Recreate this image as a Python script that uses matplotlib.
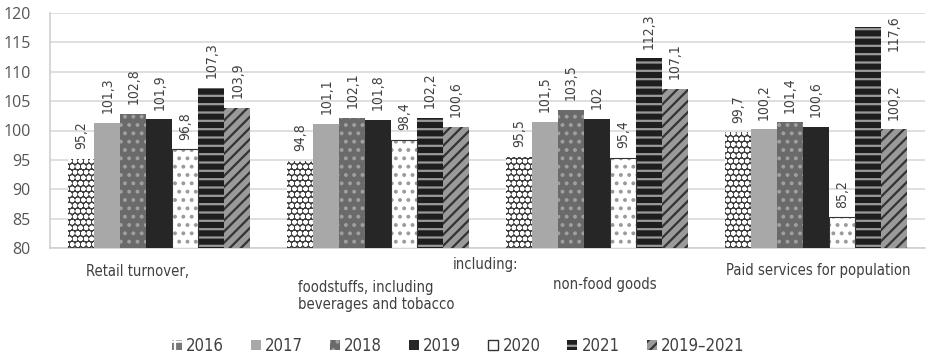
import matplotlib
matplotlib.use("Agg")
import matplotlib.pyplot as plt
import numpy as np
from matplotlib import font_manager
from matplotlib.font_manager import FontProperties
from matplotlib.patches import Patch

categories = ["Retail turnover,", "foodstuffs, including\nbeverages and tobacco",
              "non-food goods", "Paid services for population"]
series_names = ["2016", "2017", "2018", "2019", "2020", "2021", "2019–2021"]
v2016 = [95.2, 94.8, 95.5, 99.7]
v2017 = [101.3, 101.1, 101.5, 100.2]
v2018 = [102.8, 102.1, 103.5, 101.4]
v2019 = [101.9, 101.8, 102.0, 100.6]
v2020 = [96.8, 98.4, 95.4, 85.2]
v2021 = [107.3, 102.2, 112.3, 117.6]
v1921 = [103.9, 100.6, 107.1, 100.2]
label_text = [
    ["95,2", "94,8", "95,5", "99,7"],
    ["101,3", "101,1", "101,5", "100,2"],
    ["102,8", "102,1", "103,5", "101,4"],
    ["101,9", "101,8", "102", "100,6"],
    ["96,8", "98,4", "95,4", "85,2"],
    ["107,3", "102,2", "112,3", "117,6"],
    ["103,9", "100,6", "107,1", "100,2"],
]
yticks = [80, 85, 90, 95, 100, 105, 110, 115, 120]

values = [v2016, v2017, v2018, v2019, v2020, v2021, v1921]

# pick a narrow font if one is installed
cond_path = None
for f in font_manager.fontManager.ttflist:
    fn = f.fname.lower()
    if "liberationsansnarrow-regular" in fn:
        cond_path = f.fname
        break
if cond_path is None:
    for f in font_manager.fontManager.ttflist:
        fn = f.fname.lower()
        if "dejavusanscondensed.ttf" in fn:
            cond_path = f.fname
            break
avail = {f.name for f in font_manager.fontManager.ttflist}


def nfont(size):
    if cond_path:
        return FontProperties(fname=cond_path, size=size)
    return FontProperties(family="Lato" if "Lato" in avail else "DejaVu Sans",
                          size=size)


scale = 1.0 if cond_path else 0.92
tickfont = "Open Sans" if "Open Sans" in avail else "DejaVu Sans"

plt.rcParams["hatch.linewidth"] = 1.6

styles = [
    dict(fc="#3c3c3c", hatch="ooo", hc="#ffffff"),
    dict(fc="#a8a8a8", hatch=None, hc="#a8a8a8"),
    dict(fc="#6a6a6a", hatch="..", hc="#a0a0a0"),
    dict(fc="#262626", hatch=None, hc="#262626"),
    dict(fc="#ffffff", hatch="..", hc="#9a9a9a"),
    dict(fc="#1e1e1e", hatch="--", hc="#9a9a9a"),
    dict(fc="#9a9a9a", hatch="///", hc="#333333"),
]

fig = plt.figure(figsize=(9.27, 3.55), dpi=100)
ax = fig.add_axes([50/927, 1-248/355, 1-50/927-0.002, (248-13)/355])

ymin, ymax = 80, 120
x = np.arange(len(categories))
n = len(series_names)
w = 0.1187
for i, (vals, st) in enumerate(zip(values, styles)):
    pos = x + (i - (n-1)/2) * w
    heights = [v - ymin for v in vals]
    ax.bar(pos, heights, w, bottom=ymin, color=st["fc"], edgecolor=st["hc"],
           hatch=st["hatch"], linewidth=0, zorder=3)
    if i == 4:
        ax.bar(pos, heights, w, bottom=ymin, fill=False, edgecolor="#333333",
               linewidth=0.8, zorder=4)
    for p, v, t in zip(pos, vals, label_text[i]):
        if v > ymax - 5:
            # no room above the bar: label sits beside it, under the top edge
            ax.annotate(t, (p + w, ymax), xytext=(0, -1.5),
                        textcoords="offset points", rotation=90,
                        ha="center", va="top", fontproperties=nfont(10 * scale),
                        color="#404040")
        else:
            ax.annotate(t, (p, v), xytext=(0, 7), textcoords="offset points",
                        rotation=90, ha="center", va="bottom",
                        fontproperties=nfont(10 * scale), color="#404040")

ax.set_ylim(ymin, ymax)
ax.set_xlim(-0.5, 3.5)
ax.set_yticks(yticks)
ax.set_yticklabels([str(t) for t in yticks], family=tickfont, fontsize=11.5,
                   color="#555555")
ax.tick_params(axis="y", length=0, pad=14)
ax.set_xticks([])
ax.grid(axis="y", color="#d9d9d9", linewidth=1.2, zorder=0)
for s in ["top", "right"]:
    ax.spines[s].set_visible(False)
ax.spines["left"].set_color("#d0d0d0")
ax.spines["bottom"].set_color("#d0d0d0")
ax.spines["left"].set_linewidth(1.2)
ax.spines["bottom"].set_linewidth(1.2)

tc = "#404040"
fs = 10.6 * scale
fig.text(137/927, 1-271/355, categories[0], ha="center", va="center",
         fontproperties=nfont(fs), color=tc)
fig.text(486/927, 1-265/355, "including:", ha="center", va="center",
         fontproperties=nfont(fs), color=tc)
fig.text(298/927, 1-296/355, categories[1], ha="left", va="center",
         fontproperties=nfont(fs), color=tc, linespacing=1.22)
fig.text(605/927, 1-285/355, categories[2], ha="center", va="center",
         fontproperties=nfont(fs), color=tc)
fig.text(818/927, 1-270/355, categories[3], ha="center", va="center",
         fontproperties=nfont(fs), color=tc)

handles = [Patch(facecolor=st["fc"], edgecolor=st["hc"], hatch=st["hatch"],
                 linewidth=0) for st in styles]
handles[0] = Patch(facecolor="#777777", edgecolor="#ffffff", hatch="+",
                   linewidth=0)
handles[4] = Patch(facecolor="#ffffff", edgecolor="#333333", linewidth=1.0)
leg = fig.legend(handles, series_names, loc="center", ncol=7,
                 bbox_to_anchor=(458/927, 1-346/355), frameon=False,
                 handlelength=0.6, handleheight=0.6, handletextpad=0.25,
                 columnspacing=1.62, prop=nfont(12 * scale))
for t in leg.get_texts():
    t.set_color(tc)

fig.savefig("out.png", dpi=100)
